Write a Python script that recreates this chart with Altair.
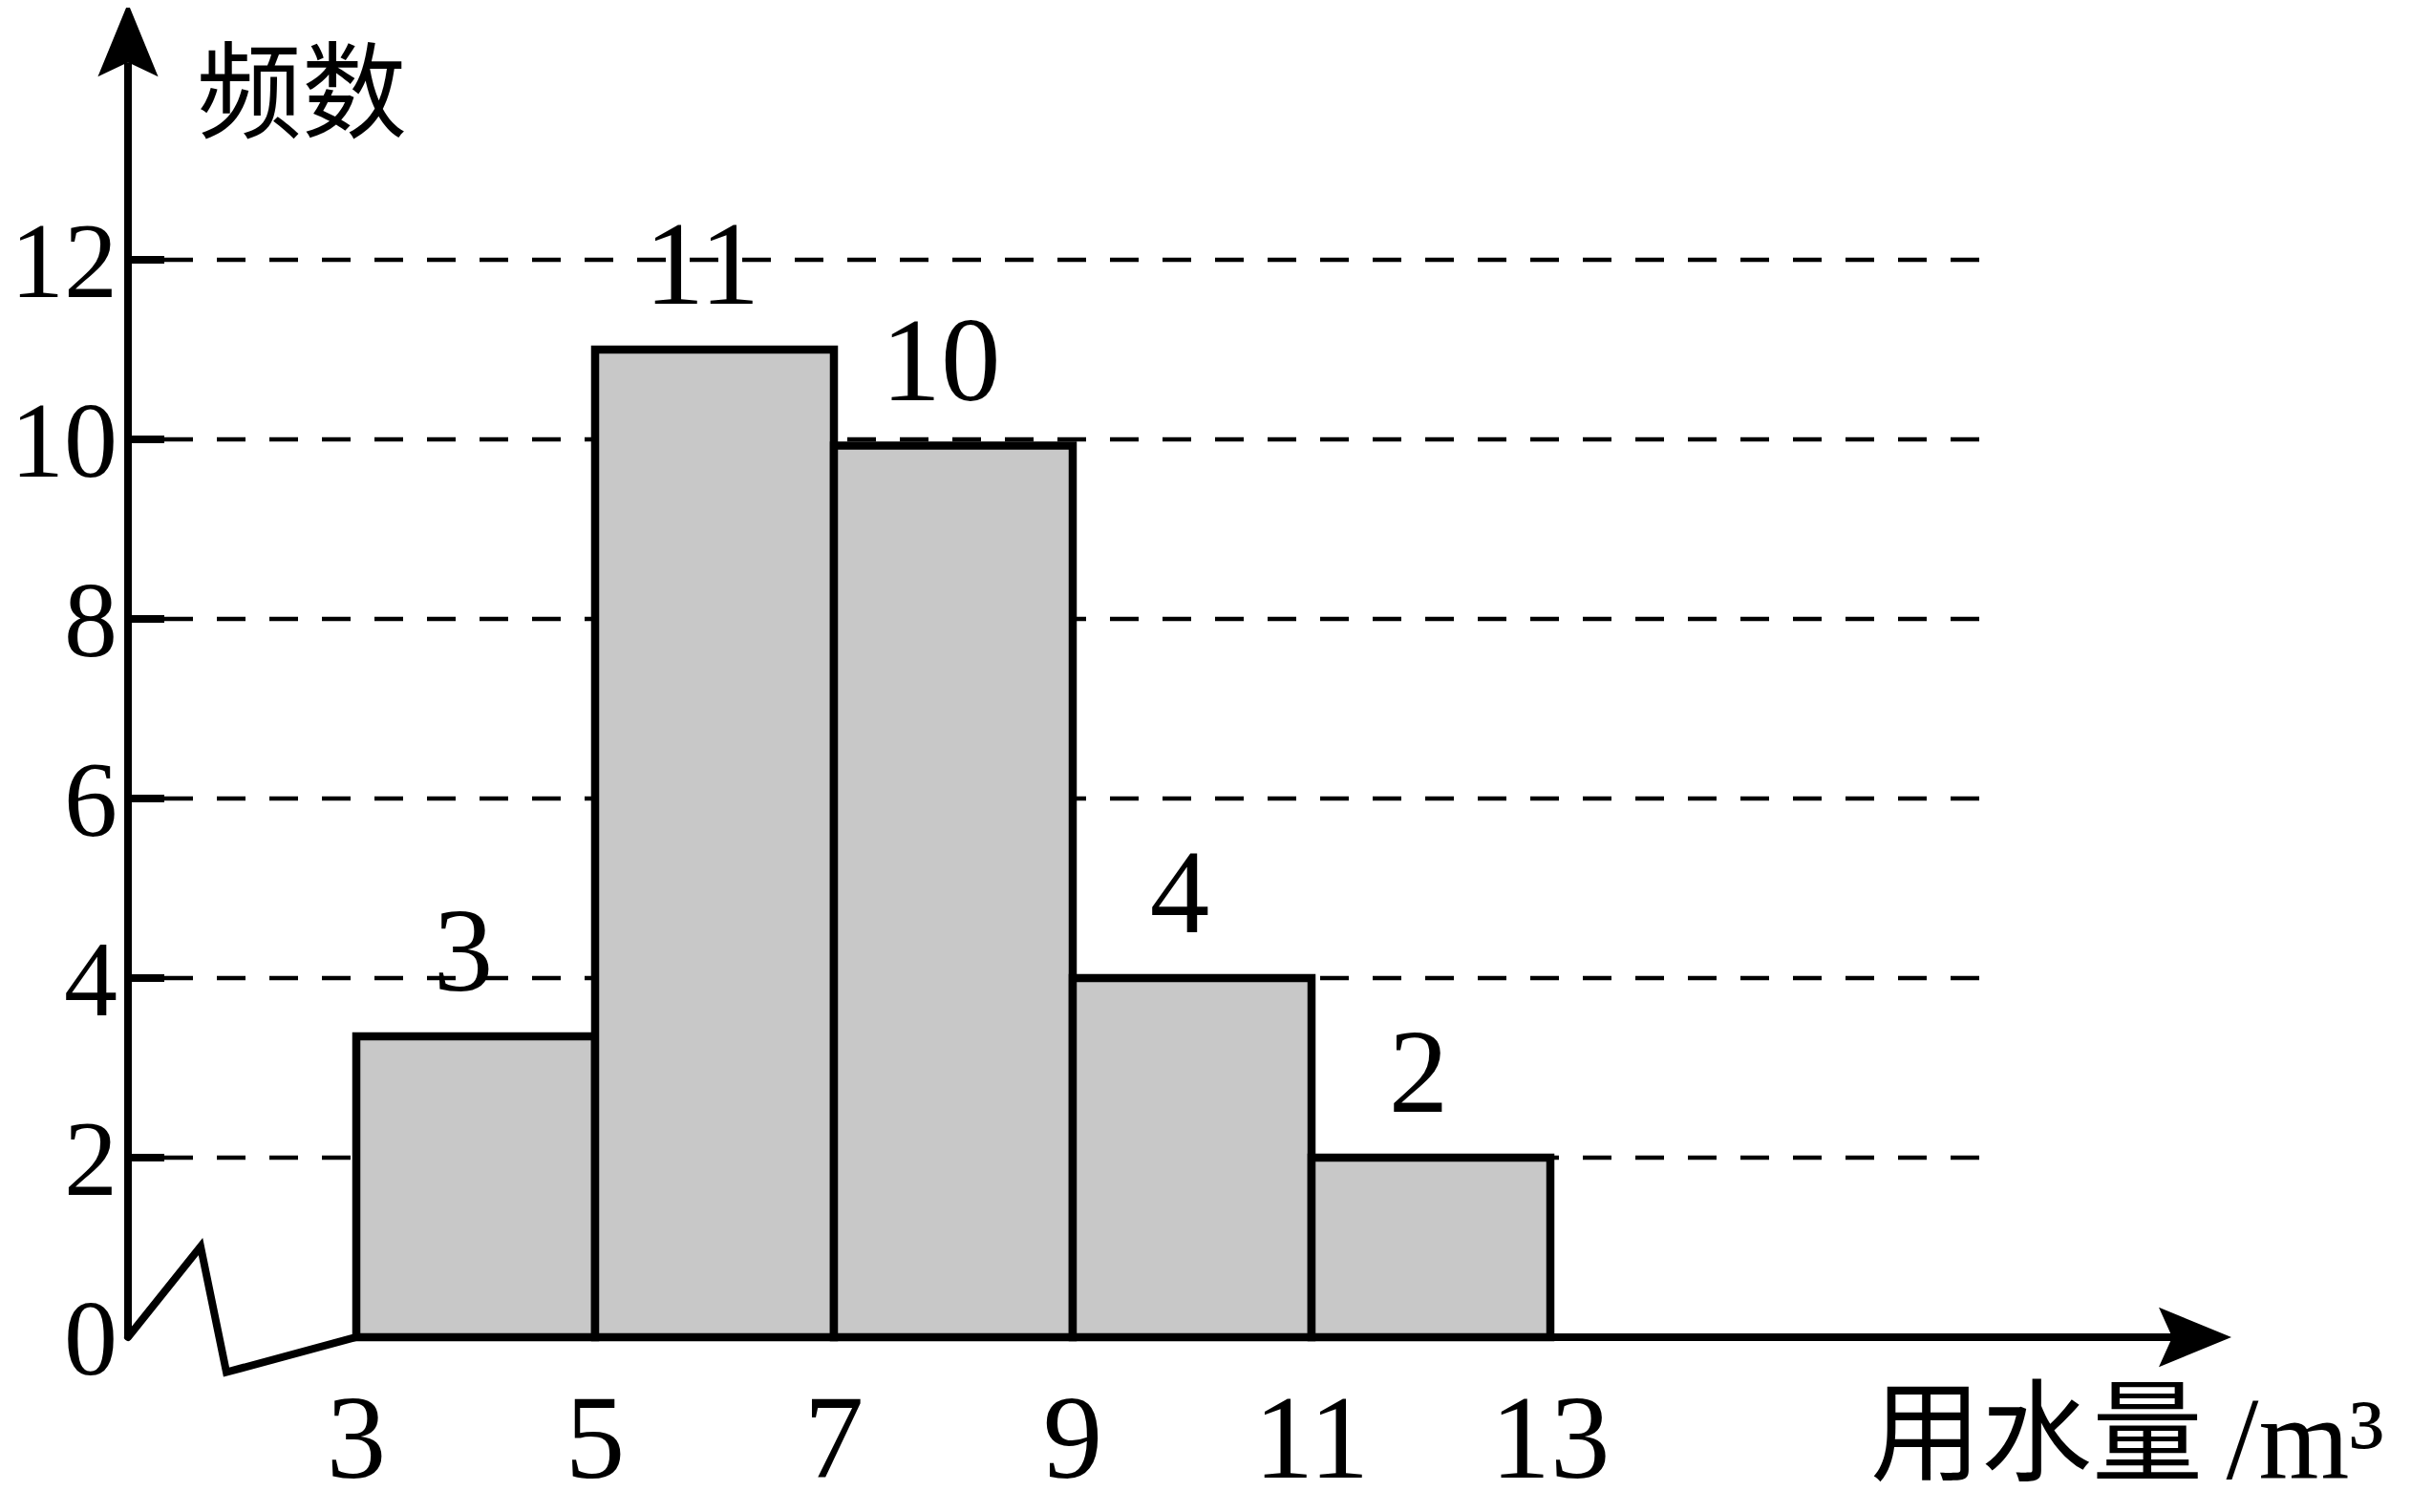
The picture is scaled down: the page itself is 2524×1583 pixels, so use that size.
import altair as alt
import pandas as pd

# ---- data ----
bin_start = [3, 5, 7, 9, 11]
bin_end = [5, 7, 9, 11, 13]
bar_height = [3.35, 11, 9.93, 4, 2]          # heights as drawn
bar_label = ["3", "11", "10", "4", "2"]       # printed counts

y_tick_values = [0, 2, 4, 6, 8, 10, 12]
y_tick_labels = ["0", "2", "4", "6", "8", "10", "12"]
grid_values = [2, 4, 6, 8, 10, 12]

x_tick_values = [3, 5, 7, 9, 11, 13]
x_tick_labels = ["3", "5", "7", "9", "11", "13"]

y_title = "频数"
x_title_cjk = "用水量"
x_title_unit = "/m³"

# broken-axis zigzag (data units)
zig_x = [1.088, 1.696, 1.912, 3.0]
zig_y = [0.0, 1.01, -0.39, 0.0]

# ---- layout constants ----
W, H = 2508, 1567
XD = [0.08, 20.144]
YD = [-1.862, 14.809]
AXIS_X = 1.088
TICK_END = 1.392
GRID_END = 16.632
XAXIS_END = 18.21
YAXIS_END = 14.2
SERIF = "Liberation Serif"
CJK = "Noto Sans CJK SC"

xs = alt.Scale(domain=XD, nice=False, zero=False)
ys = alt.Scale(domain=YD, nice=False, zero=False)

def X(f, t="quantitative"):
    return alt.X(f, type=t, scale=xs, axis=None)

def Y(f, t="quantitative"):
    return alt.Y(f, type=t, scale=ys, axis=None)

bars_df = pd.DataFrame({"x0": bin_start, "x1": bin_end, "h": bar_height,
                        "lab": bar_label})
bars_df["mid"] = (bars_df["x0"] + bars_df["x1"]) / 2
bars_df["base"] = 0

grid_df = pd.DataFrame({"v": grid_values, "a": AXIS_X, "t": TICK_END, "g": GRID_END})
ylab_df = pd.DataFrame({"v": y_tick_values, "lab": y_tick_labels, "x": 1.0})
xlab_df = pd.DataFrame({"v": x_tick_values, "lab": x_tick_labels, "y": -1.56})
zig_df = pd.DataFrame({"x": zig_x, "y": zig_y, "o": list(range(len(zig_x)))})

grid = alt.Chart(grid_df).mark_rule(color="black", strokeWidth=4.5, strokeDash=[30, 25]).encode(
    x=X("t"), x2="g", y=Y("v"))
ticks = alt.Chart(grid_df).mark_rule(color="black", strokeWidth=8).encode(
    x=X("a"), x2="t", y=Y("v"))

bars = alt.Chart(bars_df).mark_rect(fill="#c8c8c8", stroke="black", strokeWidth=8.5).encode(
    x=X("x0"), x2="x1", y=Y("base"), y2="h")

bar_text = alt.Chart(bars_df).mark_text(font=SERIF, fontSize=125, baseline="alphabetic",
                                        dy=-48, dx=-13, color="black").encode(
    x=X("mid"), y=Y("h"), text="lab:N")

axis_df = pd.DataFrame({"ax": [AXIS_X], "y0": [0], "y1": [YAXIS_END],
                        "x0": [3.0], "x1": [XAXIS_END]})
yaxis = alt.Chart(axis_df).mark_rule(color="black", strokeWidth=8).encode(
    x=X("ax"), y=Y("y0"), y2="y1")
xaxis = alt.Chart(axis_df).mark_rule(color="black", strokeWidth=8).encode(
    x=X("x0"), x2="x1", y=Y("y0"))

zig = alt.Chart(zig_df).mark_line(color="black", strokeWidth=8, strokeJoin="miter",
                                  strokeCap="round").encode(
    x=X("x"), y=Y("y"), order="o:Q")

arrow_df = pd.DataFrame({"x": [AXIS_X], "y": [14.45]})
arrow_up = alt.Chart(arrow_df).mark_point(
    shape="M0,-1L0.82,1L0,0.61L-0.82,1Z", size=5929, filled=True,
    fill="black", opacity=1, strokeWidth=0).encode(x=X("x"), y=Y("y"))
arrow_r_df = pd.DataFrame({"x": [18.4], "y": [0]})
arrow_right = alt.Chart(arrow_r_df).mark_point(
    shape="M1,0L-1,-0.82L-0.63,0L-1,0.82Z", size=5776, filled=True,
    fill="black", opacity=1, strokeWidth=0).encode(x=X("x"), y=Y("y"))

ylabels = alt.Chart(ylab_df).mark_text(font=SERIF, fontSize=112, align="right",
                                       baseline="middle", dy=5, color="black").encode(
    x=X("x"), y=Y("v"), text="lab:N")
xlabels = alt.Chart(xlab_df).mark_text(font=SERIF, fontSize=125, align="center",
                                       baseline="alphabetic", color="black").encode(
    x=X("v"), y=Y("y"), text="lab:N")

ytitle = alt.Chart(pd.DataFrame({"x": [1.664], "y": [13.447], "t": [y_title]})).mark_text(
    font=CJK, fontSize=110, align="left", baseline="alphabetic", color="black").encode(
    x=X("x"), y=Y("y"), text="t:N")
xtitle1 = alt.Chart(pd.DataFrame({"x": [15.68], "y": [-1.50], "t": [x_title_cjk]})).mark_text(
    font=CJK, fontSize=116, align="left", baseline="alphabetic", color="black").encode(
    x=X("x"), y=Y("y"), text="t:N")
xtitle2 = alt.Chart(pd.DataFrame({"x": [18.66], "y": [-1.575], "t": [x_title_unit]})).mark_text(
    font=SERIF, fontSize=122, align="left", baseline="alphabetic", color="black").encode(
    x=X("x"), y=Y("y"), text="t:N")

chart = alt.layer(
    grid, bars, ticks, yaxis, xaxis, zig, arrow_up, arrow_right,
    bar_text, ylabels, xlabels, ytitle, xtitle1, xtitle2
).properties(
    width=W, height=H, autosize=alt.AutoSizeParams(type="none"), padding=0,
    background="white"
).configure_view(stroke=None, clip=False)

chart.save("out.html", embed_options={"renderer": "svg", "actions": False})
